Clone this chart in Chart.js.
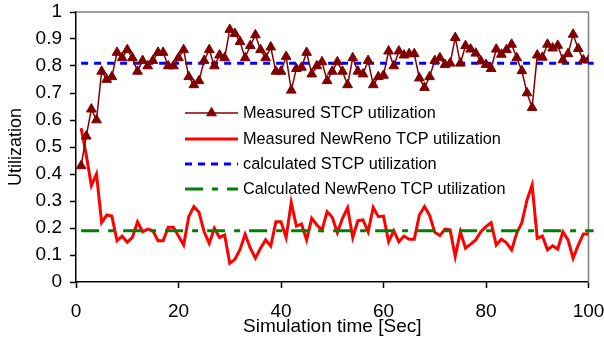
<!DOCTYPE html>
<html>
<head>
<meta charset="utf-8">
<script src="https://cdn.jsdelivr.net/npm/chart.js@4/dist/chart.umd.min.js"></script>
<style>
  html, body { margin: 0; padding: 0; background: #fff; }
  #wrap { width: 604px; height: 343px; position: relative; }
</style>
</head>
<body>
<div id="wrap"><canvas id="utilChart" width="604" height="343"></canvas></div>
<script>
// Simulation time [Sec] for every sample
const seconds = [1,2,3,4,5,6,7,8,9,10,11,12,13,14,15,16,17,18,19,20,
  21,22,23,24,25,26,27,28,29,30,31,32,33,34,35,36,37,38,39,40,
  41,42,43,44,45,46,47,48,49,50,51,52,53,54,55,56,57,58,59,60,
  61,62,63,64,65,66,67,68,69,70,71,72,73,74,75,76,77,78,79,80,
  81,82,83,84,85,86,87,88,89,90,91,92,93,94,95,96,97,98,99,100,101];

// Measured STCP utilization (t = 1..100)
const stcpMeasured = [0.43,0.54,0.64,0.60,0.78,0.75,0.76,0.85,0.83,0.86,
  0.83,0.78,0.82,0.80,0.82,0.85,0.85,0.80,0.80,0.83,
  0.86,0.76,0.73,0.745,0.82,0.86,0.80,0.84,0.83,0.935,
  0.92,0.89,0.83,0.875,0.915,0.86,0.83,0.87,0.78,0.78,
  0.835,0.71,0.79,0.795,0.85,0.77,0.80,0.815,0.745,0.78,
  0.815,0.78,0.73,0.83,0.78,0.77,0.82,0.73,0.76,0.765,
  0.855,0.80,0.855,0.84,0.845,0.845,0.755,0.72,0.76,0.82,
  0.83,0.805,0.81,0.905,0.81,0.875,0.862,0.847,0.818,0.805,
  0.79,0.862,0.843,0.86,0.88,0.83,0.782,0.70,0.646,0.84,
  0.832,0.88,0.866,0.876,0.822,0.845,0.917,0.864,0.822,0.822];

// Measured NewReno TCP utilization (t = 1..101)
const renoMeasured = [0.57,0.47,0.357,0.40,0.22,0.248,0.244,0.153,0.17,0.147,
  0.165,0.223,0.186,0.196,0.19,0.153,0.153,0.203,0.203,0.17,
  0.137,0.242,0.279,0.258,0.186,0.143,0.199,0.165,0.174,0.069,
  0.084,0.12,0.177,0.126,0.088,0.125,0.156,0.133,0.223,0.223,
  0.165,0.294,0.207,0.215,0.156,0.236,0.211,0.193,0.26,0.24,
  0.183,0.236,0.275,0.165,0.227,0.23,0.186,0.276,0.242,0.244,
  0.149,0.19,0.149,0.17,0.158,0.158,0.248,0.279,0.247,0.184,
  0.172,0.196,0.193,0.094,0.186,0.125,0.14,0.156,0.186,0.205,
  0.22,0.137,0.158,0.145,0.119,0.181,0.22,0.304,0.359,0.162,
  0.17,0.119,0.134,0.122,0.186,0.156,0.088,0.137,0.178,0.178,0.196];

// Calculated levels (flat lines from first to last sample)
const calcTime = [1, 101];
const stcpCalculated = [0.81, 0.81];
const renoCalculated = [0.19, 0.19];

const xTickValues = [0, 20, 40, 60, 80, 100];
const yTickValues = [0, 0.1, 0.2, 0.3, 0.4, 0.5, 0.6, 0.7, 0.8, 0.9, 1];

const seriesNames = [
  "Measured STCP utilization",
  "Measured NewReno TCP utilization",
  "calculated STCP utilization",
  "Calculated NewReno TCP utilization"
];

const FONT = "'Liberation Sans', Arial, sans-serif";

function toPoints(xs, ys) {
  return ys.map((y, i) => ({ x: xs[i], y }));
}

// -----------------------------
// Grey frame on top / right of plot
// -----------------------------
const framePlugin = {
  id: "frame",
  beforeDatasetsDraw(chart) {
    const { ctx, chartArea: a } = chart;
    ctx.save();
    ctx.strokeStyle = "#7f7f7f";
    ctx.lineWidth = 1.5;
    ctx.beginPath();
    ctx.moveTo(a.left, a.top);
    ctx.lineTo(a.right, a.top);
    ctx.lineTo(a.right, a.bottom);
    ctx.stroke();
    ctx.restore();
  }
};

// -----------------------------
// Legend drawn inside the plot
// -----------------------------
const insideLegend = {
  id: "insideLegend",
  afterDraw(chart) {
    const ctx = chart.ctx;
    const rows = [113, 139, 164, 189];
    const x1 = 185, x2 = 238, tx = 243;
    ctx.save();
    chart.data.datasets.forEach((ds, i) => {
      const y = rows[i];
      ctx.strokeStyle = ds.borderColor;
      ctx.lineWidth = ds.borderWidth;
      ctx.setLineDash(ds.borderDash || []);
      ctx.beginPath();
      ctx.moveTo(x1, y);
      ctx.lineTo(x2, y);
      ctx.stroke();
      ctx.setLineDash([]);
      if (ds.pointRadius > 0) {
        ctx.fillStyle = ds.pointBackgroundColor;
        ctx.strokeStyle = ds.pointBorderColor;
        ctx.lineWidth = 1;
        Chart.helpers.drawPoint(ctx, { pointStyle: "triangle", radius: ds.pointRadius, rotation: 0, borderWidth: 1 }, (x1 + x2) / 2, y);
      }
      ctx.fillStyle = "#000";
      ctx.font = "16.3px " + FONT;
      ctx.textBaseline = "middle";
      ctx.textAlign = "left";
      ctx.fillText(seriesNames[i], tx, y + 1);
    });
    ctx.restore();
  }
};

const ctx = document.getElementById("utilChart").getContext("2d");

new Chart(ctx, {
  type: "line",
  data: {
    datasets: [
      {
        label: seriesNames[0],
        data: toPoints(seconds, stcpMeasured),
        borderColor: "#800000",
        backgroundColor: "#800000",
        borderWidth: 1.5,
        pointStyle: "triangle",
        pointRadius: 5.6,
        pointBackgroundColor: "#800000",
        pointBorderColor: "#800000",
        pointBorderWidth: 1,
        order: 0
      },
      {
        label: seriesNames[1],
        data: toPoints(seconds, renoMeasured),
        borderColor: "#ff0000",
        borderWidth: 3,
        pointRadius: 0,
        clip: false,
        order: 3
      },
      {
        label: seriesNames[2],
        data: toPoints(calcTime, stcpCalculated),
        borderColor: "#0000ff",
        borderWidth: 3,
        borderDash: [7, 6],
        pointRadius: 0,
        clip: false,
        order: 1
      },
      {
        label: seriesNames[3],
        data: toPoints(calcTime, renoCalculated),
        borderColor: "#008000",
        borderWidth: 3,
        borderDash: [18, 9, 6, 9],
        pointRadius: 0,
        clip: false,
        order: 2
      }
    ]
  },
  options: {
    responsive: false,
    animation: false,
    tension: 0,
    layout: { padding: { top: 12, right: 15.5, left: 0, bottom: 0 } },
    plugins: {
      legend: { display: false },
      tooltip: { enabled: false }
    },
    scales: {
      x: {
        type: "linear",
        min: 0,
        max: 100,
        afterBuildTicks: s => { s.ticks = xTickValues.map(v => ({ value: v })); },
        afterFit: s => { s.height = 61; s.paddingLeft = 0; s.paddingRight = 0; },
        grid: { drawOnChartArea: false, tickLength: 6, tickColor: "#000", tickWidth: 1.5 },
        border: { color: "#000", width: 1.5 },
        ticks: { color: "#000", font: { family: FONT, size: 19 }, padding: 12, maxRotation: 0 },
        title: { display: true, text: "Simulation time [Sec]", color: "#000", font: { family: FONT, size: 19 }, padding: { top: 0, bottom: 5 } }
      },
      y: {
        min: 0,
        max: 1,
        afterBuildTicks: s => { s.ticks = yTickValues.map(v => ({ value: v })); },
        afterFit: s => { s.width = 76; s.paddingTop = 0; s.paddingBottom = 0; },
        grid: { drawOnChartArea: false, tickLength: 6, tickColor: "#000", tickWidth: 1.5 },
        border: { color: "#000", width: 1.5 },
        ticks: { color: "#000", font: { family: FONT, size: 19 }, padding: 8, callback: v => String(v) },
        title: { display: true, text: "Utilization", color: "#000", font: { family: FONT, size: 18 }, padding: { top: 5, bottom: 0 } }
      }
    }
  },
  plugins: [framePlugin, insideLegend]
});
</script>
</body>
</html>
